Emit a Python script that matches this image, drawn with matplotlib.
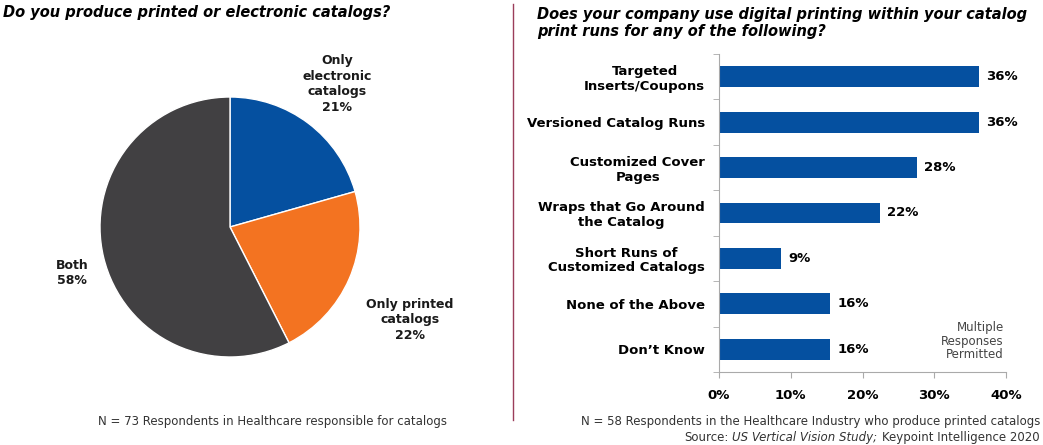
import matplotlib.pyplot as plt
import numpy as np

plt.rcParams['font.family'] = ['DejaVu Sans']

# left: printed vs electronic
pie_labels = ['Only\nelectronic\ncatalogs', 'Only printed\ncatalogs', 'Both']
pie_values = [20.6, 21.9, 57.5]
pie_colors = ['#0550A0', '#F37321', '#414042']

# right: digital printing uses
bar_labels = ['Targeted\nInserts/Coupons', 'Versioned Catalog Runs',
              'Customized Cover\nPages', 'Wraps that Go Around\nthe Catalog',
              'Short Runs of\nCustomized Catalogs', 'None of the Above',
              "Don\u2019t Know"]
bar_values = [36.2, 36.2, 27.6, 22.4, 8.6, 15.5, 15.5]
bar_color = '#0550A0'

W, H = 1043, 445
fig = plt.figure(figsize=(W / 100, H / 100), dpi=100)

def box(x0, y0, x1, y1):
    # pixel box (top-left origin) -> figure fraction
    return [x0 / W, 1 - y1 / H, (x1 - x0) / W, (y1 - y0) / H]

# titles
fig.text(3 / W, 1 - 12 / H, 'Do you produce printed or electronic catalogs?',
         fontsize=10.5, fontweight='bold', style='italic', va='center')
fig.text(537 / W, 1 - 23 / H,
         'Does your company use digital printing within your catalog\nprint runs for any of the following?',
         fontsize=10.5, fontweight='bold', style='italic', va='center', linespacing=1.2)

# divider
fig.add_artist(plt.Line2D([513 / W, 513 / W], [1 - 4 / H, 1 - 420 / H],
                          color='#9B3D5A', lw=1))

# pie
axp = fig.add_axes(box(100, 97, 360, 357))
axp.pie(pie_values, colors=pie_colors, startangle=90, counterclock=False,
        radius=1, wedgeprops=dict(edgecolor='white', linewidth=1))
axp.set_xlim(-1, 1)
axp.set_ylim(-1, 1)
axp.set_aspect('equal')
axp.axis('off')

pie_pos = [(337, 84), (410, 320), (72, 273)]
for lab, v, (px, py) in zip(pie_labels, pie_values, pie_pos):
    fig.text(px / W, 1 - py / H, f'{lab}\n{v:.0f}%', ha='center', va='center',
             fontsize=9, fontweight='bold', linespacing=1.25, color='#1a1a1a')

fig.text(272 / W, 1 - 421 / H, 'N = 73 Respondents in Healthcare responsible for catalogs',
         ha='center', va='center', fontsize=8.5, color='#333333')

# bars
axb = fig.add_axes(box(719, 54, 1006, 372))
y = np.arange(len(bar_values))
axb.barh(y, bar_values, height=0.46, color=bar_color)
axb.set_ylim(len(bar_values) - 0.5, -0.5)
axb.set_xlim(0, 40)
axb.set_xticks([0, 10, 20, 30, 40])
axb.set_xticklabels([f'{t}%' for t in [0, 10, 20, 30, 40]], fontsize=9.5, fontweight='bold')
axb.set_yticks(y)
axb.set_yticklabels(bar_labels, fontsize=9.5, fontweight='bold', ha='right',
                    multialignment='center', linespacing=1.15)
axb.tick_params(axis='y', length=0, pad=10)
axb.tick_params(axis='x', length=4, color='#aaaaaa', pad=8)
axb.set_yticks(np.arange(len(bar_values) + 1) - 0.5, minor=True)
axb.tick_params(axis='y', which='minor', length=4, color='#aaaaaa')
for s in ['top', 'right']:
    axb.spines[s].set_visible(False)
for s in ['left', 'bottom']:
    axb.spines[s].set_color('#aaaaaa')

for yi, v in zip(y, bar_values):
    axb.text(v + 1, yi, f'{v:.0f}%', va='center', ha='left', fontsize=9.5, fontweight='bold')

fig.text(1004 / W, 1 - 341 / H, 'Multiple\nResponses\nPermitted', ha='right', va='center',
         fontsize=8.5, color='#444444', linespacing=1.1)

fig.text(1040 / W, 1 - 421 / H,
         'N = 58 Respondents in the Healthcare Industry who produce printed catalogs',
         ha='right', va='center', fontsize=8.5, color='#333333')

# source line: chain the pieces right to left, on a common baseline
r = fig.canvas.get_renderer()
x_right = 1040
for part, st, gap in [('Keypoint Intelligence 2020', 'normal', 5),
                      ('US Vertical Vision Study;', 'italic', 4),
                      ('Source:', 'normal', 0)]:
    t = fig.text(x_right / W, 1 - 441 / H, part, ha='right', va='baseline',
                 fontsize=8.5, color='#333333', style=st)
    x_right -= t.get_window_extent(renderer=r).width + gap

fig.savefig('out.png', dpi=100)
